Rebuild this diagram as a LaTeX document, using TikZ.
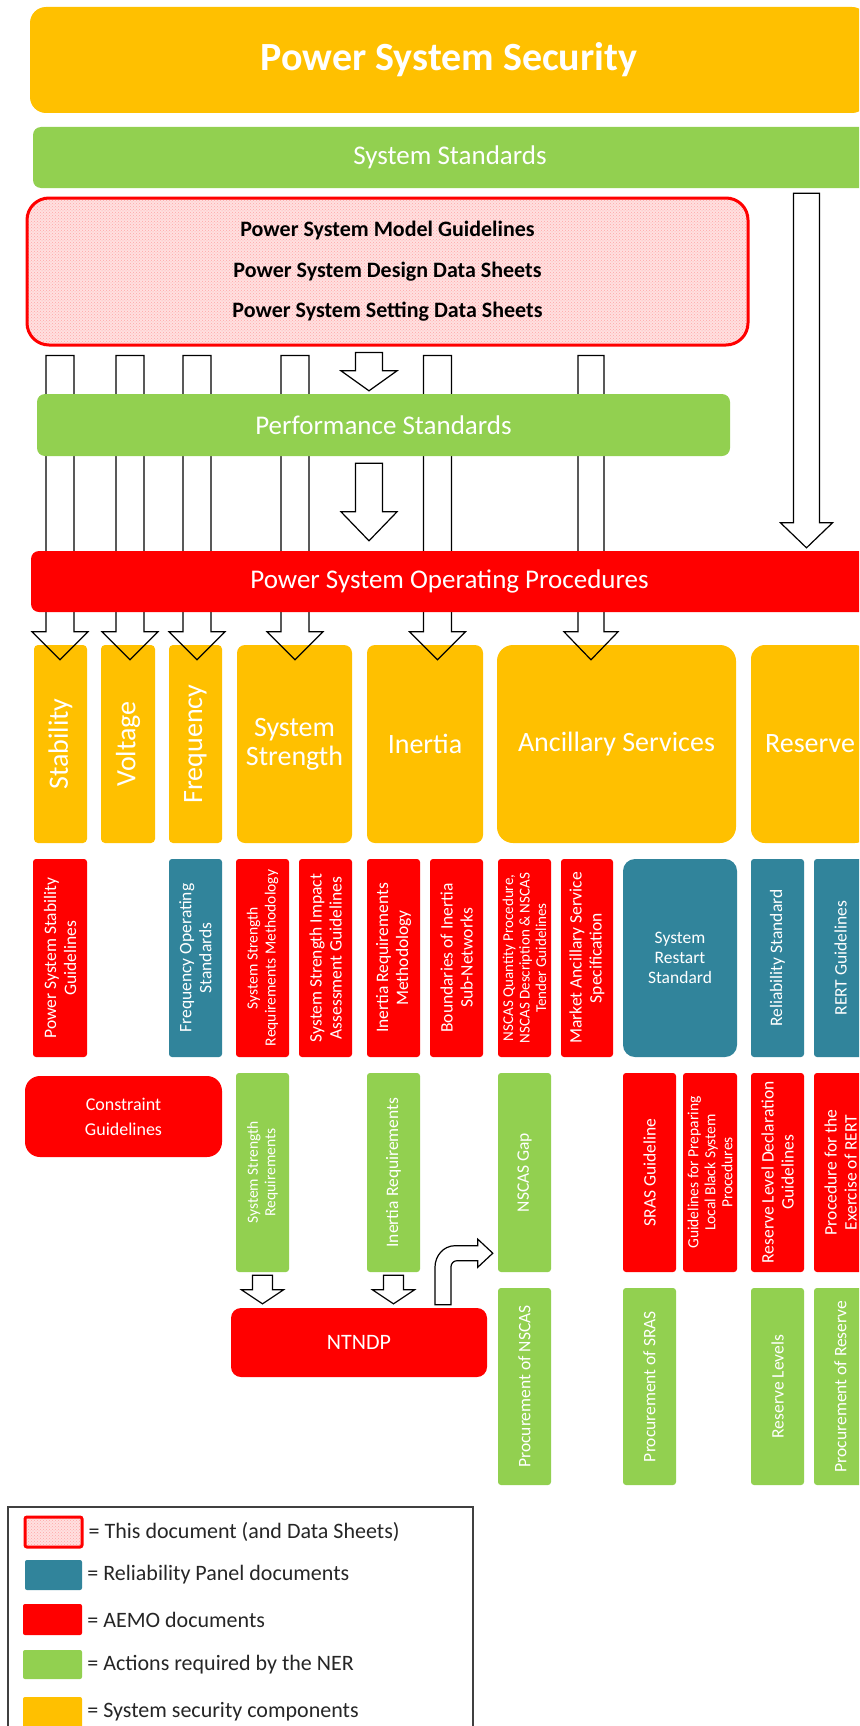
\documentclass[tikz,border=0pt]{standalone}
\usepackage{fontspec}
\setmainfont{Carlito}
\usetikzlibrary{calc,patterns}
\definecolor{secgold}{HTML}{FFC000}
\definecolor{nergreen}{HTML}{92D050}
\definecolor{aemored}{HTML}{FF0000}
\definecolor{panelteal}{HTML}{31849B}
\def\Blk#1#2#3#4#5#6#7{%
 \pgfmathsetmacro\bw{#5-#3}
 \pgfmathsetmacro\bh{#6-#4}
 \node[#2, minimum width=\bw pt, minimum height=\bh pt] (#1) at ({(#3+#5)/2},{(#4+#6)/2}) {#7};
}
\def\VBlk#1#2#3#4#5#6#7{%
 \pgfmathsetmacro\bw{#5-#3}
 \pgfmathsetmacro\bh{#6-#4}
 \node[#2, rotate=90, minimum width=\bh pt, minimum height=\bw pt] (#1) at ({(#3+#5)/2},{(#4+#6)/2}) {#7};
}
\def\HollowArrow#1#2#3#4#5{%
 \draw[hollow] let \p1=#1, \p2=#2 in
   (\x2-#3,\y1) -- (\x2-#3,\y2+#5) -- (\x2-#4,\y2+#5) -- (\x2,\y2)
   -- (\x2+#4,\y2+#5) -- (\x2+#3,\y2+#5) -- (\x2+#3,\y1) -- cycle;
}
\tikzset{
 block/.style={rectangle, inner sep=0pt, text=white, align=center},
 main bar/.style={block, rounded corners=8pt, font=\fontsize{27}{30}\selectfont},
 this doc/.style={block, preaction={fill=red!12}, pattern=crosshatch dots, pattern color=red!35,
     draw=aemored, line width=3pt, text=black},
 component/.style={block, fill=secgold, rounded corners=4pt, font=\fontsize{28}{29}\selectfont},
 aemo doc/.style={block, fill=aemored, rounded corners=3pt, font=\fontsize{17.5}{20}\selectfont},
 panel doc/.style={block, fill=panelteal, rounded corners=3pt, font=\fontsize{17.5}{20}\selectfont},
 ner action/.style={block, fill=nergreen, rounded corners=3pt, font=\fontsize{17.5}{20}\selectfont},
 hollow/.style={draw=black, line width=1.2pt, line join=miter},
 legend frame/.style={rectangle, draw=black!75, line width=1.5pt, fill=white, inner sep=0pt},
 legend text/.style={anchor=west, inner sep=0pt, font=\fontsize{22}{24}\selectfont, text=black!85}
}

\begin{document}
\begin{tikzpicture}[x=1pt, y=-1pt]
\useasboundingbox (0,0) rectangle (859,1726);
\clip (0,0) rectangle (859,1726);
\fill[white] (0,0) rectangle (859,1726);

\Blk{pss}{main bar, fill=secgold, rounded corners=16pt, font=\bfseries\fontsize{40}{48}\selectfont}{30}{7}{868}{113}{Power System Security}
\Blk{sysstd}{main bar, fill=nergreen}{33}{127}{867}{188}{System Standards}
\Blk{psmg}{this doc, rounded corners=22pt, font=\bfseries\fontsize{22}{40.5}\selectfont}{27}{198}{748}{345}{Power System Model Guidelines\\Power System Design Data Sheets\\Power System Setting Data Sheets}

% system security components
\VBlk{stab}{component}{34}{645}{87}{843}{Stability}
\VBlk{volt}{component}{101}{645}{155}{843}{Voltage}
\VBlk{freq}{component}{169}{645}{222}{843}{Frequency}
\Blk{sstr}{component, rounded corners=8pt}{237}{645}{352}{843}{System\\Strength}
\Blk{inert}{component, rounded corners=8pt}{367}{645}{483}{843}{Inertia}
\Blk{ancil}{component, rounded corners=16pt}{497}{645}{736}{843}{Ancillary Services}
\Blk{resv}{component, rounded corners=14pt}{751}{645}{869}{843}{Reserve}

\HollowArrow{($(psmg.south)+(0,9)$)}{($(stab |- sstr.north)+(-0.5,15)$)}{14pt}{28pt}{28pt}
\HollowArrow{($(psmg.south)+(0,9)$)}{($(volt |- sstr.north)+(2,15)$)}{14pt}{28pt}{28pt}
\HollowArrow{($(psmg.south)+(0,9)$)}{($(freq |- sstr.north)+(1.5,15)$)}{14pt}{28pt}{28pt}
\HollowArrow{($(psmg.south)+(0,9)$)}{($(sstr.north)+(0.5,15)$)}{14pt}{28pt}{28pt}
\HollowArrow{($(psmg.south)+(0,9)$)}{($(inert.north)+(12.5,15)$)}{14pt}{28pt}{28pt}
\HollowArrow{($(psmg.south)+(0,9)$)}{($(ancil.north)+(-25.5,15)$)}{13pt}{27pt}{28pt}

\Blk{perf}{main bar, fill=nergreen}{37}{394}{730}{456}{Performance Standards}
\Blk{psop}{main bar, fill=aemored}{31}{551}{868}{612}{Power System Operating Procedures}

\HollowArrow{($(psmg.south)+(0,6)$)}{($(perf.north)+(-14.5,-3)$)}{13.5pt}{28pt}{20pt}
\HollowArrow{($(perf.south)+(0,7)$)}{($(psop.north -| perf.north)+(-14.5,-10)$)}{13.5pt}{28pt}{29pt}
\HollowArrow{($(sysstd.south)+(0,5)$)}{($(psop.north)+(357,-3)$)}{13pt}{26pt}{25pt}

% documents
\VBlk{psgl}{aemo doc}{33}{859}{87}{1057}{Power System Stability\\Guidelines}
\VBlk{fos}{panel doc}{169}{859}{222}{1057}{Frequency Operating\\Standards}
\VBlk{ssrm}{aemo doc, font=\fontsize{15.5}{18}\selectfont}{236}{859}{289}{1057}{System Strength\\Requirements Methodology}
\VBlk{ssia}{aemo doc}{299}{859}{352}{1057}{System Strength Impact\\Assessment Guidelines}
\VBlk{irm}{aemo doc}{367}{859}{420}{1057}{Inertia Requirements\\Methodology}
\VBlk{bisn}{aemo doc}{430}{859}{483}{1057}{Boundaries of Inertia\\Sub-Networks}
\VBlk{nscasq}{aemo doc, font=\fontsize{15}{16.5}\selectfont}{498}{859}{551}{1057}{NSCAS Quantity Procedure,\\NSCAS Description \& NSCAS\\Tender Guidelines}
\VBlk{mass}{aemo doc}{561}{859}{613}{1057}{Market Ancillary Service\\Specification}
\Blk{srs}{panel doc, rounded corners=12pt}{623}{859}{737}{1057}{System\\Restart\\Standard}
\VBlk{rels}{panel doc}{751}{859}{804}{1057}{Reliability Standard}
\VBlk{rert}{panel doc}{814}{859}{867}{1057}{RERT Guidelines}

\Blk{cgl}{aemo doc, rounded corners=15pt, font=\fontsize{18}{25}\selectfont}{25}{1076}{222}{1157}{Constraint\\Guidelines}
\VBlk{ssr}{ner action, font=\fontsize{15.5}{17.5}\selectfont}{236}{1073}{289}{1272}{System Strength\\Requirements}
\VBlk{inr}{ner action}{367}{1073}{420}{1272}{Inertia Requirements}
\VBlk{nscasgap}{ner action}{498}{1073}{551}{1272}{NSCAS Gap}
\VBlk{srasg}{aemo doc}{623}{1073}{676}{1272}{SRAS Guideline}
\VBlk{glbs}{aemo doc, font=\fontsize{15.5}{17}\selectfont}{683}{1073}{737}{1272}{Guidelines for Preparing\\Local Black System\\Procedures}
\VBlk{rldg}{aemo doc}{751}{1073}{804}{1272}{Reserve Level Declaration\\Guidelines}
\VBlk{pert}{aemo doc}{814}{1073}{867}{1272}{Procedure for the\\Exercise of RERT}

\Blk{ntndp}{aemo doc, rounded corners=10pt, font=\fontsize{22}{24}\selectfont}{231}{1308}{487}{1377}{NTNDP}
\VBlk{pnscas}{ner action}{498}{1288}{551}{1485}{Procurement of NSCAS}
\VBlk{psras}{ner action}{623}{1288}{676}{1485}{Procurement of SRAS}
\VBlk{rlev}{ner action}{751}{1288}{804}{1485}{Reserve Levels}
\VBlk{pres}{ner action}{814}{1288}{867}{1485}{Procurement of Reserve}

\HollowArrow{($(ssr.west)+(0,3)$)}{($(ssr.west |- ntndp.north)+(0,-4)$)}{10pt}{21pt}{14pt}
\HollowArrow{($(inr.west)+(0,3)$)}{($(inr.west |- ntndp.north)+(0,-4)$)}{10pt}{21pt}{14pt}
\draw[hollow, fill=white] let \p1=($(ntndp.north)+(84,-3)$), \p2=($(nscasgap.north west)+(-5,-19)$) in
  (\x1-8pt,\y1) -- (\x1-8pt,\y2-14pt) to[out=90,in=180] (\x1+12pt,\y2+7.5pt)
  -- (\x2-15pt,\y2+7.5pt) -- (\x2-15pt,\y2+14pt) -- (\x2,\y2) -- (\x2-15pt,\y2-14pt)
  -- (\x2-15pt,\y2-7.5pt) -- (\x1+14pt,\y2-7.5pt) to[out=180,in=90] (\x1+8pt,\y2-13.5pt)
  -- (\x1+8pt,\y1) -- cycle;

% legend
\Blk{legend}{legend frame}{8}{1507}{473}{1760}{}
\Blk{keythis}{this doc, rounded corners=2pt}{25}{1517}{82}{1547}{}
\Blk{keypanel}{panel doc, rounded corners=2pt}{25}{1560}{82}{1590}{}
\Blk{keyaemo}{aemo doc, rounded corners=2pt}{23}{1604}{82}{1635}{}
\Blk{keyner}{ner action, rounded corners=2pt}{23}{1650}{82}{1679}{}
\Blk{keycomp}{component, rounded corners=2pt}{23}{1697}{82}{1740}{}
\node[legend text] (txtthis) at ($(keythis.east)+(5,0)$) {= This document (and Data Sheets)};
\node[legend text] (txtpanel) at ($(keypanel.east)+(5,0)$) {= Reliability Panel documents};
\node[legend text] (txtaemo) at ($(keyaemo.east)+(5,0)$) {= AEMO documents};
\node[legend text] (txtner) at ($(keyner.east)+(5,0)$) {= Actions required by the NER};
\node[legend text] (txtcomp) at ($(keycomp.east)+(5,-7)$) {= System security components};
\end{tikzpicture}
\end{document}
